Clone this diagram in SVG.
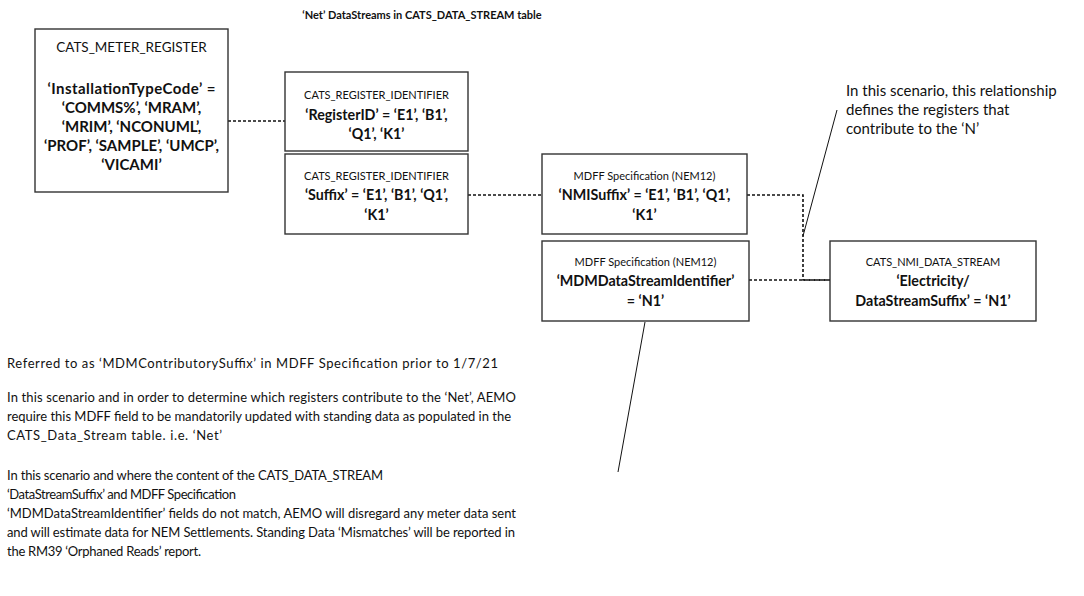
<svg xmlns="http://www.w3.org/2000/svg" width="1084" height="596" viewBox="0 0 1084 596">
<style>
  .box { fill: #ffffff; stroke: #333333; stroke-width: 1.4; }
  .t { font-family: Lato, "Open Sans", sans-serif; fill: #111111; }
  .sm { font-size: 11px; text-anchor: middle; }
  .hd { font-size: 13.5px; text-anchor: middle; }
  .b { font-size: 14.3px; font-weight: bold; text-anchor: middle; }
  .b1 { font-size: 15px; font-weight: bold; text-anchor: middle; }
  .note { font-size: 13px; }
  .rnote { font-size: 15px; }
  .dash { fill: none; stroke: #111111; stroke-width: 1.6; stroke-dasharray: 3 2; }
  .call { fill: none; stroke: #111111; stroke-width: 1; }
</style>
<rect width="1084" height="596" fill="#ffffff"/>
<text class="t" x="422" y="19" font-size="11" font-weight="bold" text-anchor="middle">‘Net’ DataStreams in CATS_DATA_STREAM table</text>

<g id="connectors">
  <line class="dash" x1="228" y1="121" x2="285" y2="121"/>
  <line class="dash" x1="468" y1="195" x2="542" y2="195"/>
  <path class="dash" d="M747,195 H803 V280 H830"/>
  <line class="dash" x1="749" y1="280" x2="830" y2="280"/>
  <line class="call" x1="837" y1="110" x2="803" y2="236"/>
  <line class="call" x1="645" y1="322" x2="618" y2="472"/>
</g>

<g id="cats-meter-register">
  <rect class="box" x="35" y="29" width="193" height="163"/>
  <text class="t hd" x="131.5" y="52">CATS_METER_REGISTER</text>
  <text class="t b1" x="131.5" y="94" textLength="168">‘InstallationTypeCode’ =</text>
  <text class="t b1" x="131.5" y="113">‘COMMS%’, ‘MRAM’,</text>
  <text class="t b1" x="131.5" y="132">‘MRIM’, ‘NCONUML’,</text>
  <text class="t b1" x="131.5" y="151">‘PROF’, ‘SAMPLE’, ‘UMCP’,</text>
  <text class="t b1" x="131.5" y="170">‘VICAMI’</text>
</g>

<g id="cats-register-identifier-1">
  <rect class="box" x="285" y="72" width="183" height="79"/>
  <text class="t sm" x="376.5" y="99">CATS_REGISTER_IDENTIFIER</text>
  <text class="t b" x="376.5" y="120">‘RegisterID’ = ‘E1’, ‘B1’,</text>
  <text class="t b" x="376.5" y="139">‘Q1’, ‘K1’</text>
</g>

<g id="cats-register-identifier-2">
  <rect class="box" x="285" y="154" width="183" height="80"/>
  <text class="t sm" x="376.5" y="180">CATS_REGISTER_IDENTIFIER</text>
  <text class="t b" x="376.5" y="200">‘Suffix’ = ‘E1’, ‘B1’, ‘Q1’,</text>
  <text class="t b" x="376.5" y="220">‘K1’</text>
</g>

<g id="mdff-nmisuffix">
  <rect class="box" x="542" y="154" width="205" height="80"/>
  <text class="t sm" x="644.5" y="180" font-size="13">MDFF Specification (NEM12)</text>
  <text class="t b" x="644.5" y="200">‘NMISuffix’ = ‘E1’, ‘B1’, ‘Q1’,</text>
  <text class="t b" x="644.5" y="220">‘K1’</text>
</g>

<g id="mdff-mdmdatastreamidentifier">
  <rect class="box" x="542" y="241" width="207" height="80"/>
  <text class="t sm" x="645.5" y="266" font-size="13">MDFF Specification (NEM12)</text>
  <text class="t b" x="645.5" y="286">‘MDMDataStreamIdentifier’</text>
  <text class="t b" x="645.5" y="306">= ‘N1’</text>
</g>

<g id="cats-nmi-data-stream">
  <rect class="box" x="830" y="241" width="206" height="80"/>
  <text class="t sm" x="933" y="266" font-size="12.5">CATS_NMI_DATA_STREAM</text>
  <text class="t b" x="933" y="286">‘Electricity/</text>
  <text class="t b" x="933" y="306">DataStreamSuffix’ =  ‘N1’</text>
</g>

<g id="notes">
  <text class="t rnote" x="846" y="96">In this scenario, this relationship</text>
  <text class="t rnote" x="846" y="115">defines the registers that</text>
  <text class="t rnote" x="846" y="134">contribute to the ‘N’</text>

  <text class="t note" x="7" y="368" textLength="491">Referred to as ‘MDMContributorySuffix’ in MDFF Specification prior to 1/7/21</text>
  <text class="t note" x="7" y="402" textLength="509">In this scenario and in order to determine which registers contribute to the ‘Net’, AEMO</text>
  <text class="t note" x="7" y="421" textLength="504">require this MDFF field to be mandatorily updated with standing data as populated in the</text>
  <text class="t note" x="7" y="440" textLength="215">CATS_Data_Stream table.  i.e. ‘Net’</text>
  <text class="t note" x="7" y="480" textLength="376">In this scenario and where the content of the CATS_DATA_STREAM</text>
  <text class="t note" x="7" y="499" textLength="229">‘DataStreamSuffix’  and MDFF Specification</text>
  <text class="t note" x="7" y="518" textLength="509">‘MDMDataStreamIdentifier’ fields do not match,  AEMO will disregard any meter data sent</text>
  <text class="t note" x="7" y="537" textLength="508">and will estimate data for NEM Settlements.  Standing Data ‘Mismatches’ will be reported in</text>
  <text class="t note" x="7" y="556" textLength="194">the RM39 ‘Orphaned Reads’ report.</text>
</g>
</svg>
